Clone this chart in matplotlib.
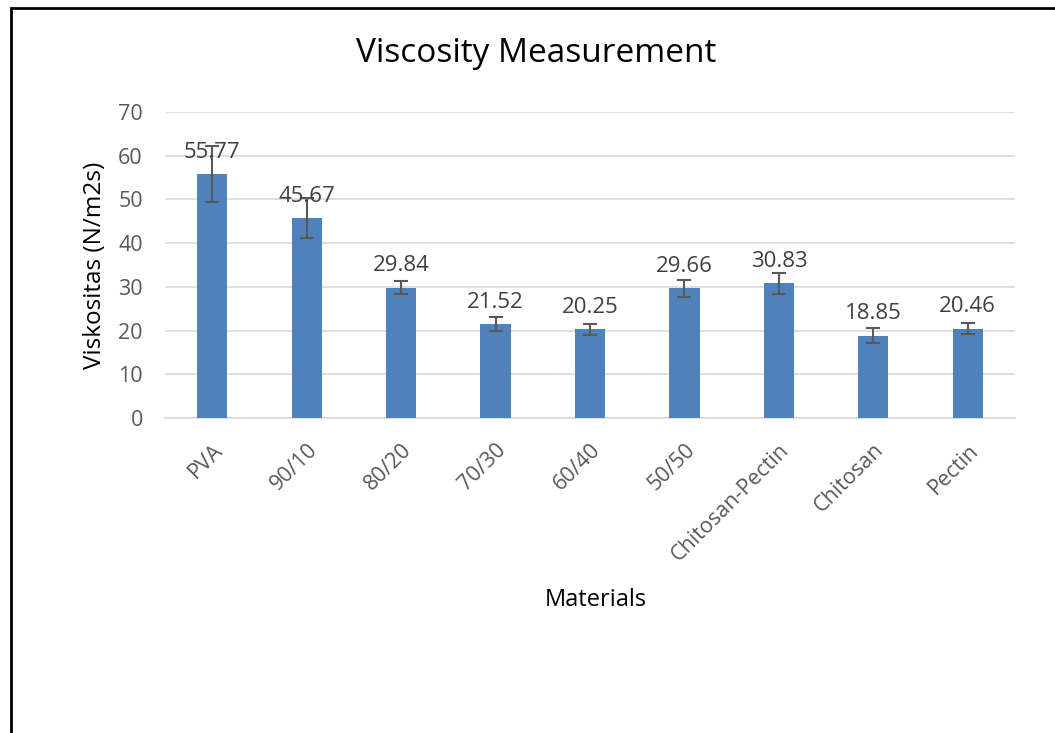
import numpy as np
import matplotlib
matplotlib.use('Agg')
import matplotlib.pyplot as plt
from matplotlib.patches import Rectangle

plt.rcParams['font.family'] = ['Open Sans', 'DejaVu Sans']

materials = ['PVA', '90/10', '80/20', '70/30', '60/40', '50/50', 'Chitosan-Pectin', 'Chitosan', 'Pectin']
viscosity = [55.77, 45.67, 29.84, 21.52, 20.25, 29.66, 30.83, 18.85, 20.46]
errors = [6.4, 4.6, 1.5, 1.6, 1.2, 2.0, 2.4, 1.7, 1.3]
yticks = [0, 10, 20, 30, 40, 50, 60, 70]

dpi = 100
fig = plt.figure(figsize=(1055 / dpi, 733 / dpi), dpi=dpi)
ax = fig.add_axes([165 / 1055, 1 - 418 / 733, 850 / 1055, 306 / 733])

x = np.arange(len(materials))
ax.bar(x, viscosity, width=0.32, color='#4F81BD', zorder=3)
ax.errorbar(x, viscosity, yerr=errors, fmt='none', ecolor='#595959',
            elinewidth=1.5, capsize=5, capthick=1.5, zorder=4)

for xi, v in zip(x, viscosity):
    ax.annotate('%.2f' % v, (xi, v), xytext=(0, 8), textcoords='offset points',
                ha='center', va='bottom', fontsize=16, color='#404040', zorder=5)

ax.set_xlim(-0.5, len(materials) - 0.5)
ax.set_ylim(0, 70)
ax.set_yticks(yticks)
ax.yaxis.grid(True, color='#D9D9D9', linewidth=1.2, zorder=0)
ax.set_axisbelow(True)
for s in ['top', 'right', 'left']:
    ax.spines[s].set_visible(False)
ax.spines['bottom'].set_color('#D9D9D9')
ax.spines['bottom'].set_linewidth(1.2)
ax.tick_params(axis='both', length=0, labelsize=15.5, labelcolor='#595959')
ax.tick_params(axis='y', pad=16)

ax.set_xticks(x)
ax.set_xticklabels(materials, rotation=45, ha='right', rotation_mode='anchor')
for lbl in ax.get_xticklabels():
    lbl.set_y(-0.055)
    lbl.set_x(lbl.get_position()[0] + 0.08)

fig.text(536 / 1055, 1 - 53 / 733, 'Viscosity Measurement', ha='center', va='center',
         fontsize=24, color='black')
fig.text(596 / 1055, 1 - 600 / 733, 'Materials', ha='center', va='center',
         fontsize=17, color='black')
fig.text(95 / 1055, 1 - 265 / 733, 'Viskositas (N/m2s)', ha='center', va='center',
         rotation=90, fontsize=17.5, color='black')

fig.patches.append(Rectangle((11 / 1055, -0.05), 1.2, 1.05 - 8 / 733, transform=fig.transFigure,
                             fill=False, edgecolor='black', linewidth=2))

fig.savefig('out.png', dpi=dpi)
